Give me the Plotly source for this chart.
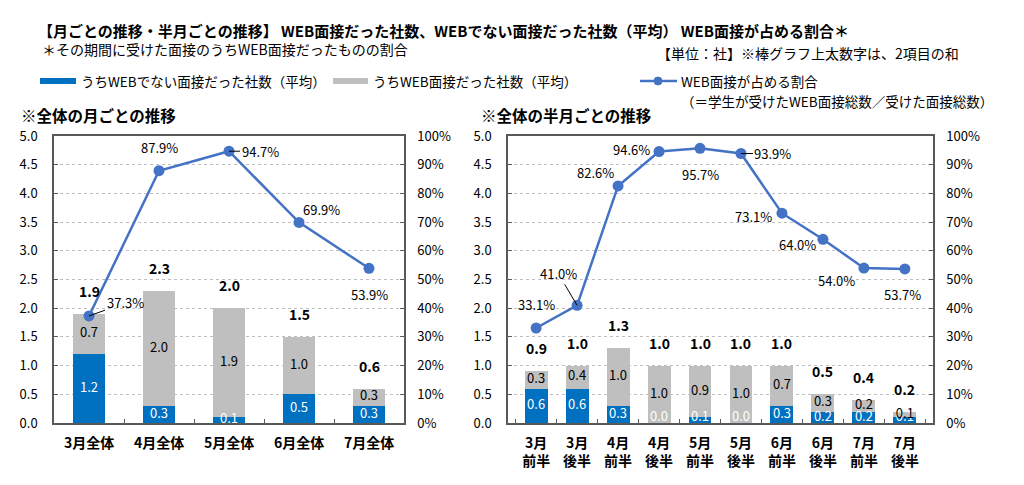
import plotly.graph_objects as go

# ---------------- data ----------------
months = ["3月全体", "4月全体", "5月全体", "6月全体", "7月全体"]
m_nonweb = [1.2, 0.3, 0.1, 0.5, 0.3]
m_web = [0.7, 2.0, 1.9, 1.0, 0.3]
m_total = [1.9, 2.3, 2.0, 1.5, 0.6]
m_ratio = [37.3, 87.9, 94.7, 69.9, 53.9]

halves = ["3月<br>前半", "3月<br>後半", "4月<br>前半", "4月<br>後半", "5月<br>前半",
          "5月<br>後半", "6月<br>前半", "6月<br>後半", "7月<br>前半", "7月<br>後半"]
h_nonweb = [0.6, 0.6, 0.3, 0.0, 0.1, 0.0, 0.3, 0.2, 0.2, 0.1]
h_web = [0.3, 0.4, 1.0, 1.0, 0.9, 1.0, 0.7, 0.3, 0.2, 0.1]
h_total = [0.9, 1.0, 1.3, 1.0, 1.0, 1.0, 1.0, 0.5, 0.4, 0.2]
h_ratio = [33.1, 41.0, 82.6, 94.6, 95.7, 93.9, 73.1, 64.0, 54.0, 53.7]

# ---------------- styles ----------------
FONT = "Noto Sans CJK JP"
BLUE = "#0070C0"
GRAY = "#BFBFBF"
LINE = "#4472C4"
AXIS = "#595959"
W, H = 1024, 485

# pixel offsets of the percentage labels (ax, ay, leader line)
m_lab = [(36, -13, True), (0, -23, False), (31, 0, True), (22, -13, False), (0, 26, False)]
h_lab = [(0, -24, False), (-19, -32, True), (-23, -13, False), (-28, -2, False), (0, 26, False),
         (32, 0, True), (-28, 3, False), (-25, 5, False), (-27, 12, False), (-2, 26, False)]


def px(x):
    return x / W


def py(y):
    return 1 - y / H


fig = go.Figure()
annotations = []


def add_chart(cats, nonweb, web, total, ratio, xa, ya, ya2, barw, labs, floor):
    fig.add_bar(x=cats, y=nonweb, marker=dict(color=BLUE, line=dict(width=0)), width=barw,
                xaxis=xa, yaxis=ya, hoverinfo="skip")
    fig.add_bar(x=cats, y=web, marker=dict(color=GRAY, line=dict(width=0)), width=barw,
                xaxis=xa, yaxis=ya, hoverinfo="skip")
    fig.add_scatter(x=cats, y=[max(v / 2, floor) for v in nonweb], mode="text",
                    text=[f"{v:.1f}" for v in nonweb],
                    textfont=dict(color="white", size=13, family=FONT),
                    xaxis=xa, yaxis=ya, cliponaxis=False, hoverinfo="skip")
    fig.add_scatter(x=cats, y=[n + w / 2 for n, w in zip(nonweb, web)], mode="text",
                    text=[f"{v:.1f}" for v in web],
                    textfont=dict(color="black", size=13, family=FONT),
                    xaxis=xa, yaxis=ya, cliponaxis=False, hoverinfo="skip")
    fig.add_scatter(x=cats, y=ratio, mode="lines+markers",
                    line=dict(color=LINE, width=2.5), marker=dict(size=11, color=LINE),
                    xaxis=xa, yaxis=ya2, cliponaxis=False, hoverinfo="skip")
    for c, t in zip(cats, total):
        annotations.append(dict(x=c, y=t, xref=xa, yref=ya, text=f"{t:.1f}", showarrow=False,
                                yshift=23, font=dict(size=14, family=FONT, color="black", weight="bold")))
    for c, r, (ax, ay, arrow) in zip(cats, ratio, labs):
        if arrow:
            annotations.append(dict(x=c, y=r, xref=xa, yref=ya2, text=f"{r:.1f}%",
                                    showarrow=True, ax=ax, ay=ay, arrowhead=0, arrowwidth=1,
                                    arrowcolor="black", standoff=0,
                                    font=dict(size=13, family=FONT, color="black")))
        else:
            annotations.append(dict(x=c, y=r, xref=xa, yref=ya2, text=f"{r:.1f}%",
                                    showarrow=False, xshift=ax, yshift=-ay,
                                    font=dict(size=13, family=FONT, color="black")))


add_chart(months, m_nonweb, m_web, m_total, m_ratio, "x", "y", "y2", 0.46, m_lab, 0.05)
add_chart(halves, h_nonweb, h_web, h_total, h_ratio, "x2", "y3", "y4", 0.56, h_lab, 0.1)

ydom = [py(423), py(136)]
axis_common = dict(showline=True, linecolor=AXIS, linewidth=1.5, ticks="inside", ticklen=4,
                   tickcolor=AXIS, tickwidth=1, zeroline=False, automargin=False)
xcommon = dict(axis_common, type="category", mirror=True, tickson="boundaries", showgrid=False,
               tickfont=dict(size=14, family=FONT, color="black", weight="bold"), ticklabelstandoff=6)
yleft = dict(axis_common, range=[0, 5], dtick=0.5, tickformat=".1f", mirror=True, showgrid=True,
             gridcolor="#BFBFBF", griddash="dot", gridwidth=1,
             tickfont=dict(size=13, family=FONT, color="black"), ticklabelstandoff=12)
yright = dict(axis_common, range=[0, 100], dtick=10, ticksuffix="%", side="right", showgrid=False,
              tickfont=dict(size=13, family=FONT, color="black"), ticklabelstandoff=9)

fig.update_layout(
    width=W, height=H, autosize=False,
    margin=dict(l=0, r=0, t=0, b=0, pad=0),
    paper_bgcolor="white", plot_bgcolor="white",
    barmode="stack", showlegend=False,
    font=dict(family=FONT, color="black"),
    xaxis=dict(xcommon, domain=[px(54), px(404)], anchor="y"),
    yaxis=dict(yleft, domain=ydom, anchor="x"),
    yaxis2=dict(yright, overlaying="y", anchor="x"),
    xaxis2=dict(xcommon, domain=[px(508), px(933)], anchor="y3"),
    yaxis3=dict(yleft, domain=ydom, anchor="x2"),
    yaxis4=dict(yright, overlaying="y3", anchor="x2"),
)

# ---------------- titles & legend (text) ----------------
def txt(x, y, s, size, bold=False):
    annotations.append(dict(x=px(x), y=py(y), xref="paper", yref="paper", text=s, showarrow=False,
                            xanchor="left", yanchor="middle",
                            font=dict(size=size, family=FONT, color="black",
                                      weight="bold" if bold else "normal")))


txt(36, 31, "【月ごとの推移・半月ごとの推移】 WEB面接だった社数、WEBでない面接だった社数（平均） WEB面接が占める割合＊", 15, True)
txt(40, 49, "＊その期間に受けた面接のうちWEB面接だったものの割合", 14)
txt(655, 53, "【単位：社】※棒グラフ上太数字は、2項目の和", 14)
txt(79, 81, "うちWEBでない面接だった社数（平均）", 13.5)
txt(371, 81, "うちWEB面接だった社数（平均）", 13.5)
txt(679, 81, "WEB面接が占める割合", 13.5)
txt(679, 101, "（＝学生が受けたWEB面接総数／受けた面接総数）", 13.5)
txt(19, 115, "※全体の月ごとの推移", 15.5, True)
txt(479, 115, "※全体の半月ごとの推移", 15.5, True)

shapes = [
    dict(type="line", xref="paper", yref="paper", x0=px(40), x1=px(76), y0=py(81), y1=py(81),
         line=dict(color=BLUE, width=6)),
    dict(type="line", xref="paper", yref="paper", x0=px(333), x1=px(368), y0=py(81), y1=py(81),
         line=dict(color=GRAY, width=6)),
    dict(type="line", xref="paper", yref="paper", x0=px(640), x1=px(677), y0=py(81), y1=py(81),
         line=dict(color=LINE, width=2.5)),
    dict(type="circle", xref="paper", yref="paper", x0=px(654), x1=px(662), y0=py(85), y1=py(77),
         fillcolor=LINE, line=dict(color=LINE, width=1)),
]

fig.update_layout(annotations=annotations, shapes=shapes)
fig.write_html("out.html")
